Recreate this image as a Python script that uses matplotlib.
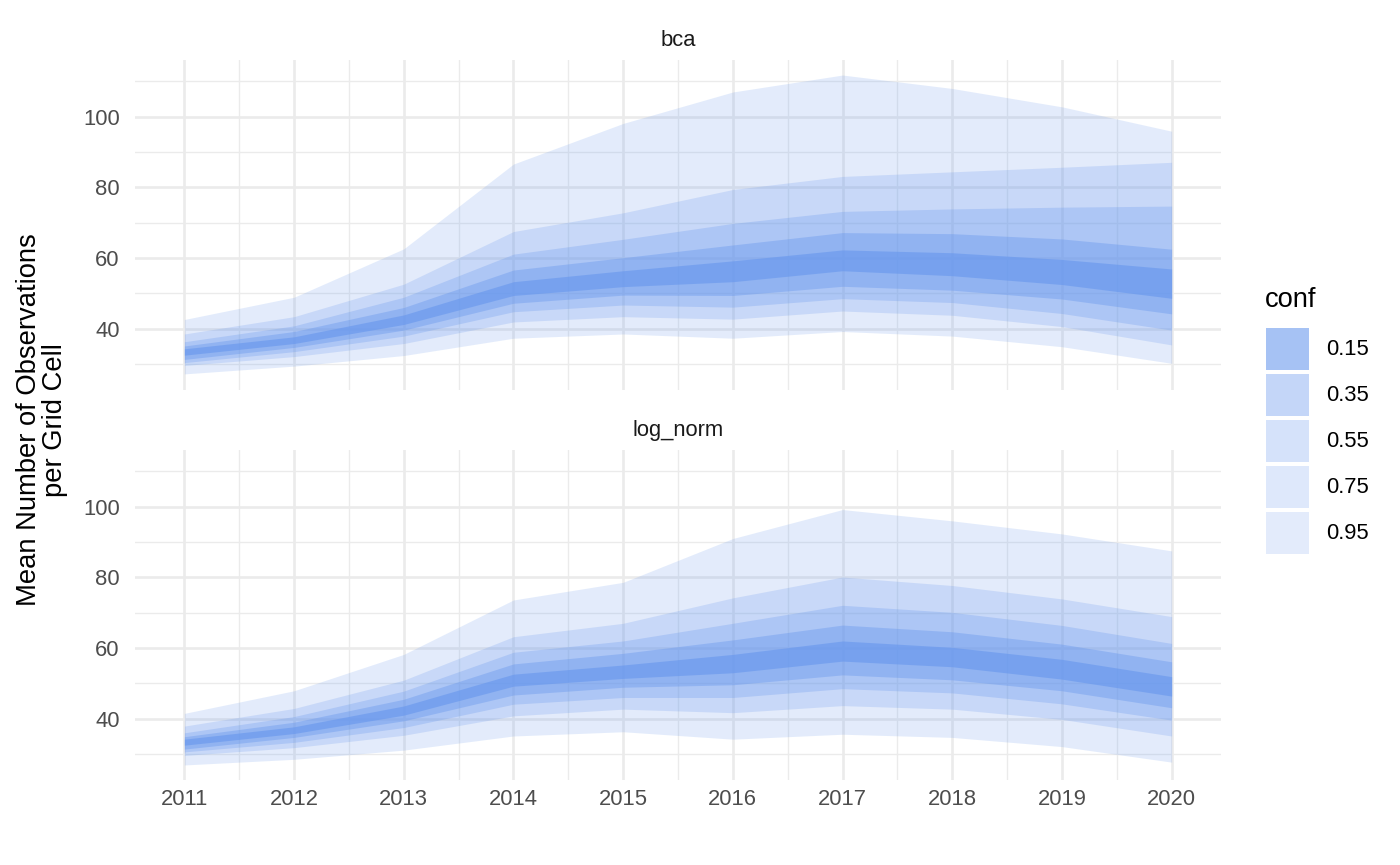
import matplotlib
matplotlib.use("Agg")
import matplotlib.pyplot as plt
from matplotlib.patches import Patch
from matplotlib.ticker import MultipleLocator

plt.rcParams['font.family'] = ['Liberation Sans', 'DejaVu Sans']

years = [2011, 2012, 2013, 2014, 2015, 2016, 2017, 2018, 2019, 2020]
conf_levels = ["0.15", "0.35", "0.55", "0.75", "0.95"]
panel_names = ["bca", "log_norm"]

# bca panel
bca_hi95 = [42.6, 48.9, 62.6, 86.6, 98.1, 107.0, 111.8, 108.0, 102.8, 95.9]
bca_hi75 = [38.5, 43.4, 52.6, 67.5, 72.8, 79.4, 83.1, 84.4, 85.7, 87.1]
bca_hi55 = [36.3, 40.8, 48.9, 61.1, 65.3, 69.8, 73.2, 73.9, 74.4, 74.7]
bca_hi35 = [35.1, 39.2, 46.0, 56.6, 60.1, 63.7, 67.2, 66.9, 65.4, 62.5]
bca_hi15 = [34.3, 37.7, 43.9, 53.3, 56.4, 59.2, 62.3, 61.5, 59.6, 56.9]
bca_lo15 = [32.5, 35.8, 41.2, 49.4, 51.9, 53.3, 56.4, 55.0, 52.5, 48.6]
bca_lo35 = [31.3, 34.7, 39.6, 47.2, 49.5, 49.4, 52.0, 50.9, 48.4, 44.2]
bca_lo55 = [30.4, 33.5, 37.9, 44.8, 46.7, 46.1, 48.5, 47.4, 44.3, 39.6]
bca_lo75 = [29.6, 32.1, 35.8, 41.9, 43.4, 42.7, 45.0, 43.8, 40.6, 35.4]
bca_lo95 = [27.2, 29.4, 32.4, 37.3, 38.5, 37.3, 39.2, 37.9, 34.9, 30.2]

# log_norm panel
ln_hi95 = [41.5, 47.9, 58.2, 73.6, 78.6, 91.0, 99.2, 96.0, 92.3, 87.5]
ln_hi75 = [37.9, 42.9, 50.9, 63.2, 67.0, 74.2, 80.1, 77.7, 73.9, 68.9]
ln_hi55 = [36.0, 40.6, 47.8, 58.8, 62.0, 67.0, 72.1, 70.1, 66.4, 61.3]
ln_hi35 = [34.9, 39.0, 45.5, 55.5, 58.5, 62.3, 66.5, 64.6, 61.1, 56.1]
ln_hi15 = [34.2, 37.7, 43.6, 52.6, 55.2, 58.2, 62.0, 60.2, 56.8, 51.9]
ln_lo15 = [32.5, 35.8, 41.0, 49.2, 51.4, 53.0, 56.3, 54.7, 51.2, 46.4]
ln_lo35 = [31.4, 34.7, 39.4, 46.7, 48.9, 49.6, 52.4, 51.0, 47.9, 43.1]
ln_lo55 = [30.6, 33.3, 37.5, 44.1, 46.0, 46.0, 48.5, 47.3, 44.2, 39.6]
ln_lo75 = [29.6, 31.8, 35.3, 40.8, 42.7, 41.7, 43.7, 42.7, 39.8, 35.1]
ln_lo95 = [26.9, 28.5, 31.1, 35.1, 36.3, 34.2, 35.6, 34.7, 32.1, 27.7]

bca_bands = [(bca_lo95, bca_hi95), (bca_lo75, bca_hi75), (bca_lo55, bca_hi55),
             (bca_lo35, bca_hi35), (bca_lo15, bca_hi15)]
ln_bands = [(ln_lo95, ln_hi95), (ln_lo75, ln_hi75), (ln_lo55, ln_hi55),
            (ln_lo35, ln_hi35), (ln_lo15, ln_hi15)]

fill_color = "#6495ED"
# alpha per band, ordered 0.95 .. 0.15
band_alpha = [0.18, 0.21, 0.265, 0.38, 0.574]

W, H = 1400, 865
fig = plt.figure(figsize=(W / 100, H / 100), dpi=100)

left, right = 135 / W, 1221 / W
ax_top = fig.add_axes([left, 1 - 389.8 / H, right - left, (389.8 - 60.2) / H])
ax_bot = fig.add_axes([left, 1 - 779.8 / H, right - left, (779.8 - 450.2) / H], sharex=ax_top)

tick_fs = 15.8
for ax, bands, name in [(ax_top, bca_bands, panel_names[0]), (ax_bot, ln_bands, panel_names[1])]:
    for (lo, hi), a in zip(bands, band_alpha):
        ax.fill_between(years, lo, hi, color=fill_color, alpha=a, linewidth=0)
    ax.set_xlim(2011 - 0.45, 2020 + 0.45)
    ax.set_ylim(22.7, 116.0)
    ax.set_xticks(years)
    ax.xaxis.set_minor_locator(MultipleLocator(0.5))
    ax.set_yticks([40, 60, 80, 100])
    ax.yaxis.set_minor_locator(MultipleLocator(10))
    ax.grid(which="major", color="#ebebeb", linewidth=1.9)
    ax.grid(which="minor", color="#ebebeb", linewidth=1.0)
    ax.set_axisbelow(True)
    for s in ax.spines.values():
        s.set_visible(False)
    ax.tick_params(which="both", length=0)
    ax.tick_params(axis="y", labelsize=tick_fs, labelcolor="#4d4d4d", pad=11)
    ax.tick_params(axis="x", labelsize=tick_fs, labelcolor="#4d4d4d", pad=6.5)
    ax.set_title(name, fontsize=tick_fs, color="#1a1a1a", pad=10)

ax_top.tick_params(axis="x", labelbottom=False)
ax_bot.set_xticklabels([str(y) for y in years])

fig.text(42 / W, 1 - 420 / H, "Mean Number of Observations\nper Grid Cell",
         rotation=90, ha="center", va="center", multialignment="center",
         fontsize=19.7, color="black", linespacing=1.0)

# legend title
fig.text(1265 / W, 1 - 307 / H, "conf", ha="left", va="baseline",
         fontsize=19.7, color="black")

handles = [Patch(facecolor=fill_color, alpha=a, edgecolor="none") for a in band_alpha[::-1]]
leg = fig.legend(handles, conf_levels, loc="upper left",
                 bbox_to_anchor=(1266 / W, 1 - 327.7 / H), frameon=False,
                 fontsize=tick_fs,
                 handlelength=1.96, handleheight=2.57, labelspacing=0.18,
                 handletextpad=0.76, borderpad=0, borderaxespad=0)

fig.savefig("out.png", dpi=100)
